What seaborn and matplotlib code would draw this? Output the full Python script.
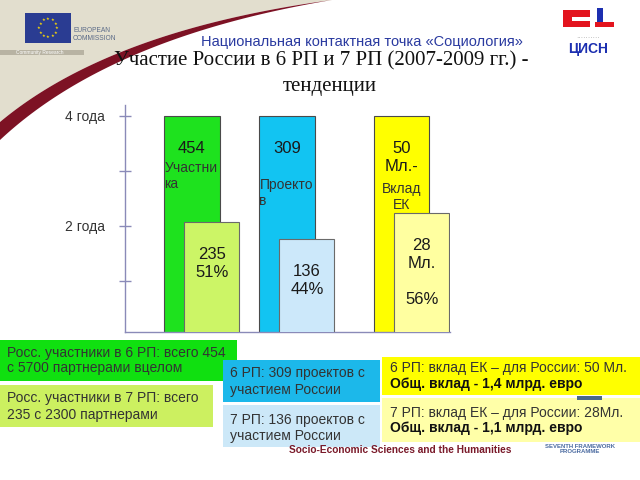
import numpy as np
import pandas as pd
import matplotlib
matplotlib.use("Agg")
import matplotlib.pyplot as plt
from matplotlib.patches import Rectangle, Polygon
import seaborn as sns

# ---------------- data ----------------
categories = ["Участники", "Проекты", "Вклад ЕК"]
fp6_values = [454, 309, 50]
fp7_values = [235, 136, 28]
fp7_share_pct = [51, 44, 56]
fp6_years = 4
fp6_units = ["", "", "\nМл.-"]
fp6_captions = ["Участни\nка", "Проекто\nв", "Вклад\nЕК"]
fp7_units = ["", "", "\nМл.\n"]
ytick_values = [1, 2, 3, 4]
ytick_labels = ["", "2 года", "", "4 года"]

box_texts = [
    "Росс. участники в 6 РП: всего 454\nс 5700 партнерами вцелом",
    "Росс. участники в 7 РП: всего\n235 с 2300 партнерами",
    "6 РП: 309 проектов с\nучастием России",
    "7 РП: 136 проектов с\nучастием России",
]
eu_texts = [("6 РП: вклад ЕК – для России: 50 Мл.", "Общ. вклад - 1,4 млрд. евро"),
            ("7 РП: вклад ЕК – для России: 28Мл.", "Общ. вклад - 1,1 млрд. евро")]

# ---------------- layout / style ----------------
W, H = 640, 480
bar_pos = [0.0, 1.0, 2.21]
fp7_offset = 0.21
fp6_colors = ["#1ee21e", "#12c4f2", "#ffff00"]
fp7_colors = ["#ccf566", "#cce8fa", "#ffffa0"]

sns.set_style("white")
plt.rcParams["font.family"] = ["Liberation Sans", "DejaVu Sans"]

fig = plt.figure(figsize=(6.4, 4.8), dpi=100)
fig.patch.set_facecolor("white")

def fx(x):
    return x / W

def fy(y):
    return 1 - y / H

def frect(x0, y0, x1, y1, **kw):
    fig.patches.append(Rectangle((fx(x0), fy(y1)), (x1 - x0) / W, (y1 - y0) / H,
                                 transform=fig.transFigure, **kw))

# ---- decorative header background ----
t = np.linspace(0, 1, 60)
def bez(p0, p1, p2):
    x = (1 - t) ** 2 * p0[0] + 2 * (1 - t) * t * p1[0] + t ** 2 * p2[0]
    y = (1 - t) ** 2 * p0[1] + 2 * (1 - t) * t * p1[1] + t ** 2 * p2[1]
    return x, y
ux, uy = bez((0, 122), (110, 30), (332, 0))
lx, ly = bez((0, 140), (110, 37), (332, 0))
beige = [(fx(0), fy(0))] + [(fx(a), fy(b)) for a, b in zip(ux, uy)]
fig.patches.append(Polygon(beige, closed=True, transform=fig.transFigure,
                           facecolor="#e2dece", edgecolor="none", zorder=0))
band = [(fx(a), fy(b)) for a, b in zip(ux, uy)] + [(fx(a), fy(b)) for a, b in zip(lx[::-1], ly[::-1])]
fig.patches.append(Polygon(band, closed=True, transform=fig.transFigure,
                           facecolor="#7d1224", edgecolor="none", zorder=0))

# EU logo
frect(25, 13, 71, 43, facecolor="#2a3c92", edgecolor="none")
ang = np.linspace(0, 2 * np.pi, 13)[:-1]
for a in ang:
    fig.text(fx(48 + 9 * np.cos(a)), fy(28 + 9 * np.sin(a)), "★", color="#ffdd00",
             fontsize=3, ha="center", va="center", family="DejaVu Sans")
fig.text(fx(73), fy(31), "EUROPEAN", fontsize=4.8, color="#5b6b88", va="center")
fig.text(fx(73), fy(39), "COMMISSION", fontsize=4.8, color="#5b6b88", va="center")
frect(0, 50, 84, 55, facecolor="#b8b3a3", edgecolor="none")
fig.text(fx(16), fy(52.5), "Community Research", fontsize=3.5, color="white", va="center")

# right logo
frect(563, 10, 590, 17, facecolor="#e3141e", edgecolor="none")
frect(563, 10, 572, 27, facecolor="#e3141e", edgecolor="none")
frect(563, 21, 590, 27, facecolor="#e3141e", edgecolor="none")
frect(597, 8, 603, 27, facecolor="#1c2fb0", edgecolor="none")
frect(595, 22, 614, 27, facecolor="#e3141e", edgecolor="none")
fig.text(fx(588), fy(39), "··········", fontsize=5, color="#a0a0a0", ha="center", va="center")
fig.text(fx(588), fy(49), "ЦИСН", fontsize=10, color="#1c2fb0", ha="center", va="center",
         fontweight="bold")

# titles
fig.text(fx(362), fy(42), "Национальная контактная точка «Социология»", fontsize=10.5,
         color="#2a3aa0", ha="center", va="center")
fig.text(fx(321), fy(61), "Участие России в 6 РП и 7 РП (2007-2009 гг.) -", fontsize=15,
         family=["Liberation Serif", "DejaVu Serif"], color="#111111", ha="center", va="center")
fig.text(fx(330), fy(86), "тенденции", fontsize=15,
         family=["Liberation Serif", "DejaVu Serif"], color="#111111", ha="center", va="center")

# ---------------- chart ----------------
ax = fig.add_axes([fx(125), fy(332), 325 / W, 227 / H])
ax.set_facecolor("none")

fp6_height = [fp6_years for _ in fp6_values]
fp7_height = [fp6_years * b / a for a, b in zip(fp6_values, fp7_values)]

df6 = pd.DataFrame({"pos": bar_pos, "h": fp6_height, "cat": categories})
df7 = pd.DataFrame({"pos": [p + fp7_offset for p in bar_pos], "h": fp7_height, "cat": categories})

sns.barplot(data=df6, x="pos", y="h", hue="cat", palette=dict(zip(categories, fp6_colors)),
            native_scale=True, width=0.58, dodge=False, legend=False, errorbar=None,
            saturation=1, edgecolor="#4a4a4a", linewidth=0.8, ax=ax)
n0 = len(ax.patches)
sns.barplot(data=df7, x="pos", y="h", hue="cat", palette=dict(zip(categories, fp7_colors)),
            native_scale=True, width=0.58, dodge=False, legend=False, errorbar=None,
            saturation=1, edgecolor="#6a6a6a", linewidth=0.8, ax=ax)
for p in ax.patches[n0:]:
    p.set_zorder(3)

PX = 55.0  # pixels per y unit
half_w = 0.29
cap_off = [45, 62, 66]
for i, (pos, h) in enumerate(zip(bar_pos, fp6_height)):
    ax.text(pos, h - 25 / PX, f"{fp6_values[i]}{fp6_units[i]}", ha="center", va="top",
            fontsize=12, linespacing=1.25, color="#1a1a1a", zorder=2)
    if i < 2:
        ax.text(pos - half_w, h - cap_off[i] / PX, fp6_captions[i], ha="left", va="top",
                fontsize=10, linespacing=1.2, color="#333333", zorder=2)
    else:
        ax.text(pos, h - cap_off[i] / PX, fp6_captions[i], ha="center", va="top",
                fontsize=10, linespacing=1.2, color="#333333", zorder=2)

for i, (pos, h) in enumerate(zip(bar_pos, fp7_height)):
    ax.text(pos + fp7_offset, h - 25 / PX, f"{fp7_values[i]}{fp7_units[i]}\n{fp7_share_pct[i]}%",
            ha="center", va="top", fontsize=12, linespacing=1.25, color="#1a1a1a", zorder=4)

ax.set_xlim(-0.705, 2.716)
ax.set_ylim(4.2 - 227 / PX, 4.2)
ax.set_xticks([])
ax.set_yticks(ytick_values)
ax.set_yticklabels(ytick_labels)
ax.set_xlabel("")
ax.set_ylabel("")
ax.tick_params(axis="y", direction="inout", length=8.6, width=1, color="#8a8ab8",
               pad=10, labelsize=10, labelcolor="#333333", left=True)
for s in ["top", "right"]:
    ax.spines[s].set_visible(False)
for s in ["left", "bottom"]:
    ax.spines[s].set_color("#8a8ab8")
    ax.spines[s].set_linewidth(1)

# ---------------- bottom boxes ----------------
boxes = [
    (0, 340, 237, 381, "#10e010", 7, [353, 368]),
    (0, 385, 213, 427, "#ccf060", 7, [398, 415]),
    (223, 360, 380, 402, "#1cb8ea", 230, [373, 390]),
    (223, 405, 380, 447, "#cce8f8", 230, [420, 436]),
]
for (x0, y0, x1, y1, col, tx, lines), txt in zip(boxes, box_texts):
    frect(x0, y0, x1, y1, facecolor=col, edgecolor="none")
    for yy, line in zip(lines, txt.split("\n")):
        fig.text(fx(tx), fy(yy), line, fontsize=10, color="#333333", ha="left", va="center")

eboxes = [(382, 357, 640, 395, "#ffff00", [368, 384]),
          (382, 398, 640, 442, "#ffffa8", [413, 428])]
for (x0, y0, x1, y1, col, lines), (l1, l2) in zip(eboxes, eu_texts):
    frect(x0, y0, x1, y1, facecolor=col, edgecolor="none")
    fig.text(fx(390), fy(lines[0]), l1, fontsize=10, color="#333333", ha="left", va="center")
    fig.text(fx(390), fy(lines[1]), l2, fontsize=10, color="#111111", ha="left", va="center",
             fontweight="bold")
frect(577, 396, 602, 400, facecolor="#4a6a8a", edgecolor="none")

# footer
fig.text(fx(400), fy(450), "Socio-Economic Sciences and the Humanities", fontsize=7.3,
         color="#7a1a2a", ha="center", va="center", fontweight="bold")
fig.text(fx(580), fy(449), "SEVENTH FRAMEWORK\nPROGRAMME", fontsize=4.3, color="#4a6aa0",
         ha="center", va="center", fontweight="bold", linespacing=1.0)

fig.savefig("out.png", dpi=100)
